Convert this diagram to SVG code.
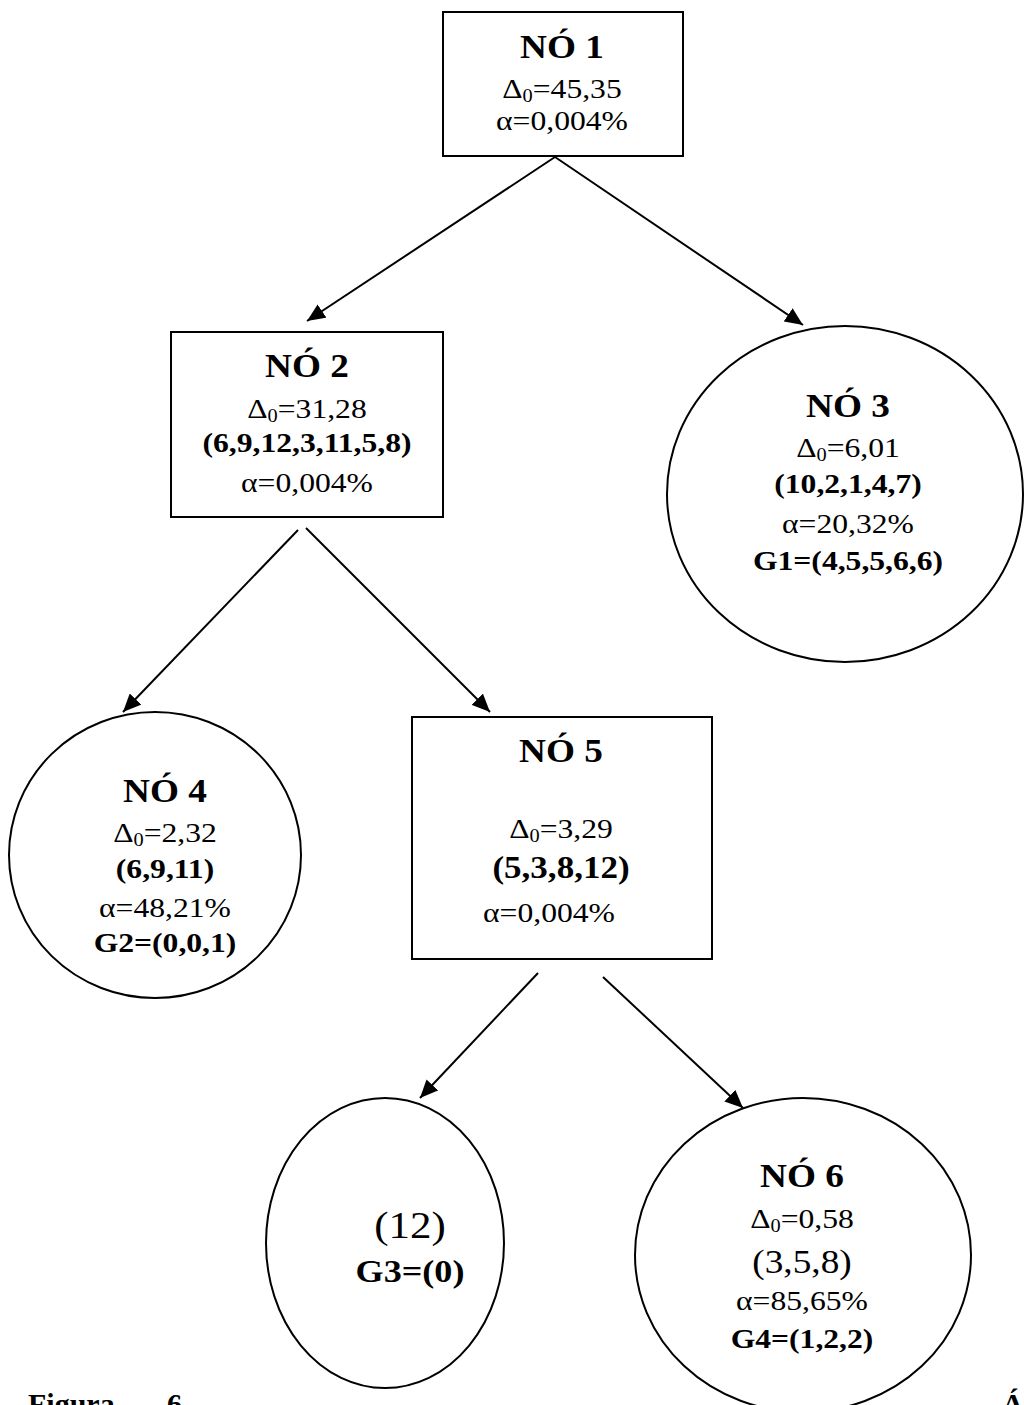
<svg xmlns="http://www.w3.org/2000/svg" width="1024" height="1405" viewBox="0 0 1024 1405">
<style>
  .shape { fill: #fff; stroke: #000; stroke-width: 2; }
  .edge { stroke: #000; stroke-width: 2; fill: none; }
  text { font-family: "Liberation Serif", "Times New Roman", serif; fill: #000; text-anchor: middle; }
  .t { font-size: 33px; font-weight: bold; }
  .r { font-size: 28px; }
  .b { font-size: 28px; font-weight: bold; }
  .sub { font-size: 18px; }
</style>
<defs>
  <marker id="arr" markerUnits="userSpaceOnUse" markerWidth="19" markerHeight="16" refX="18" refY="8" orient="auto">
    <path d="M0,0 L18,8 L0,16 z" fill="#000"/>
  </marker>
</defs>
<rect width="1024" height="1405" fill="#fff"/>

<g id="connectors">
  <line class="edge" x1="555" y1="157" x2="307" y2="321" marker-end="url(#arr)"/>
  <line class="edge" x1="555" y1="157" x2="803" y2="325" marker-end="url(#arr)"/>
  <line class="edge" x1="298" y1="530" x2="123" y2="712" marker-end="url(#arr)"/>
  <line class="edge" x1="306" y1="528" x2="490" y2="712" marker-end="url(#arr)"/>
  <line class="edge" x1="538" y1="973" x2="420" y2="1098" marker-end="url(#arr)"/>
  <line class="edge" x1="603" y1="977" x2="743" y2="1108" marker-end="url(#arr)"/>
</g>

<g id="no1">
  <rect class="shape" x="443" y="12" width="240" height="144"/>
  <g transform="translate(562 0) scale(1.13 1)">
    <text class="t" x="0" y="58">NÓ 1</text>
    <text class="r" x="0" y="98">Δ<tspan class="sub" dy="4">0</tspan><tspan dy="-4">=45,35</tspan></text>
    <text class="r" x="0" y="130">α=0,004%</text>
  </g>
</g>

<g id="no2">
  <rect class="shape" x="171" y="332" width="272" height="185"/>
  <g transform="translate(307 0) scale(1.13 1)">
    <text class="t" x="0" y="377">NÓ 2</text>
    <text class="r" x="0" y="418">Δ<tspan class="sub" dy="4">0</tspan><tspan dy="-4">=31,28</tspan></text>
    <text class="b" x="0" y="452">(6,9,12,3,11,5,8)</text>
    <text class="r" x="0" y="492">α=0,004%</text>
  </g>
</g>

<g id="no3">
  <ellipse class="shape" cx="845" cy="494" rx="178" ry="168"/>
  <g transform="translate(848 0) scale(1.13 1)">
    <text class="t" x="0" y="417">NÓ 3</text>
    <text class="r" x="0" y="457">Δ<tspan class="sub" dy="4">0</tspan><tspan dy="-4">=6,01</tspan></text>
    <text class="b" x="0" y="493">(10,2,1,4,7)</text>
    <text class="r" x="0" y="533">α=20,32%</text>
    <text class="b" x="0" y="570">G1=(4,5,5,6,6)</text>
  </g>
</g>

<g id="no4">
  <ellipse class="shape" cx="155" cy="855" rx="146" ry="143"/>
  <g transform="translate(165 0) scale(1.13 1)">
    <text class="t" x="0" y="802">NÓ 4</text>
    <text class="r" x="0" y="842">Δ<tspan class="sub" dy="4">0</tspan><tspan dy="-4">=2,32</tspan></text>
    <text class="b" x="0" y="878">(6,9,11)</text>
    <text class="r" x="0" y="917">α=48,21%</text>
    <text class="b" x="0" y="952">G2=(0,0,1)</text>
  </g>
</g>

<g id="no5">
  <rect class="shape" x="412" y="717" width="300" height="242"/>
  <g transform="translate(561 0) scale(1.13 1)">
    <text class="t" x="0" y="762">NÓ 5</text>
    <text class="r" x="0" y="838">Δ<tspan class="sub" dy="4">0</tspan><tspan dy="-4">=3,29</tspan></text>
    <text class="b" x="0" y="878" style="font-size:31px">(5,3,8,12)</text>
  </g>
  <g transform="translate(549 0) scale(1.13 1)">
    <text class="r" x="0" y="922">α=0,004%</text>
  </g>
</g>

<g id="g3">
  <ellipse class="shape" cx="385" cy="1243" rx="119" ry="145"/>
  <g transform="translate(410 0) scale(1.13 1)">
    <text class="r" x="0" y="1238" style="font-size:38px">(12)</text>
    <text class="b" x="0" y="1282" style="font-size:32px">G3=(0)</text>
  </g>
</g>

<g id="no6">
  <ellipse class="shape" cx="803" cy="1255" rx="168" ry="157"/>
  <g transform="translate(802 0) scale(1.13 1)">
    <text class="t" x="0" y="1187">NÓ 6</text>
    <text class="r" x="0" y="1228">Δ<tspan class="sub" dy="4">0</tspan><tspan dy="-4">=0,58</tspan></text>
    <text class="r" x="0" y="1273" style="font-size:33px">(3,5,8)</text>
    <text class="r" x="0" y="1310">α=85,65%</text>
    <text class="b" x="0" y="1348">G4=(1,2,2)</text>
  </g>
</g>

<g id="caption">
  <text class="b" x="28" y="1414" style="text-anchor:start;font-size:30px">Figura</text>
  <text class="b" x="167" y="1414" style="text-anchor:start;font-size:30px">6</text>
  <text class="b" x="1002" y="1414" style="text-anchor:start;font-size:30px">Á</text>
</g>
</svg>
